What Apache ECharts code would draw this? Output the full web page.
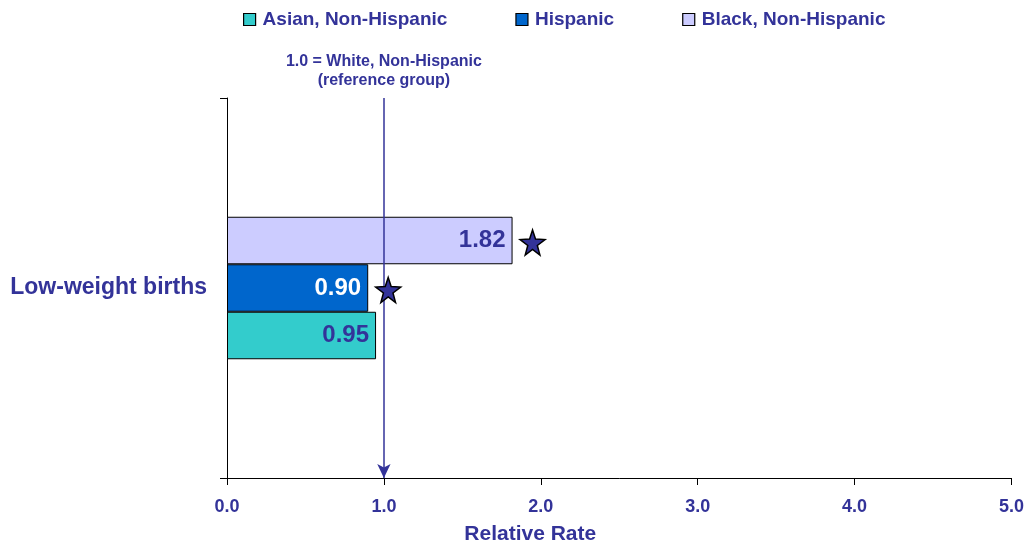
<!DOCTYPE html>
<html><head><meta charset="utf-8">
<script src="https://cdn.jsdelivr.net/npm/echarts@6/dist/echarts.min.js"></script>
<style>html,body{margin:0;padding:0;background:#fff}#c{width:1027px;height:550px}</style>
</head><body><div id="c"></div>
<script>
const categories = ['Low-weight births'];
const seriesNames = ['Asian, Non-Hispanic', 'Hispanic', 'Black, Non-Hispanic'];
const asianValues = [0.95];
const hispanicValues = [0.90];
const blackValues = [1.82];
const significant = [false, true, true];
const xTicks = [0, 1, 2, 3, 4, 5];
const referenceValue = 1.0;

const ink = '#333399';
const colors = ['#33CCCC', '#0066CC', '#CCCCFF'];
const labelColors = [ink, '#ffffff', ink];
const valuesList = [asianValues, hispanicValues, blackValues];
const font = 'Liberation Sans, Arial, sans-serif';

const series = seriesNames.map((name, i) => {
  const s = {
    name, type: 'bar',
    data: valuesList[i],
    barWidth: 47.5, barGap: '0%', barCategoryGap: '63%',
    itemStyle: { color: colors[i], borderColor: '#000', borderWidth: 1 },
    label: { show: true, position: 'insideRight', distance: 7, formatter: p => p.value.toFixed(2),
      color: labelColors[i], fontFamily: font, fontWeight: 'bold', fontSize: 24 }
  };
  if (significant[i]) {
    s.markPoint = {
      symbol: 'path://M50,0 L61.8,36.2 L100,38.2 L69.1,61.8 L79.4,100 L50,78 L20.6,100 L30.9,61.8 L0,38.2 L38.2,36.2 Z',
      symbolSize: 25, symbolOffset: [20, 2],
      itemStyle: { color: ink, borderColor: '#000', borderWidth: 1.5 },
      label: { show: false },
      data: valuesList[i].map((v, k) => ({ coord: [v, categories[k]] }))
    };
  }
  if (i === 0) {
    s.markLine = {
      silent: true,
      symbol: ['arrow', 'none'], symbolSize: [10, 14],
      lineStyle: { color: ink, width: 1.5, type: 'solid' },
      label: { show: true, position: 'end', distance: 8, formatter: '1.0 = White, Non-Hispanic\n(reference group)',
        color: ink, fontFamily: font, fontWeight: 'bold', fontSize: 16, lineHeight: 19, align: 'center' },
      data: [{ xAxis: referenceValue }]
    };
  }
  return s;
}).reverse();

const chart = echarts.init(document.getElementById('c'));
chart.setOption({
  animation: false,
  textStyle: { fontFamily: font },
  legend: {
    top: 5, left: 243, padding: [5, 0, 0, 0], itemGap: 68, itemWidth: 12, itemHeight: 12, icon: 'rect',
    itemStyle: { borderColor: '#000', borderWidth: 1.2 },
    textStyle: { color: ink, fontFamily: font, fontWeight: 'bold', fontSize: 19, padding: [0, 0, 0, 2] },
    data: seriesNames
  },
  grid: { left: 227, right: 13, top: 98, bottom: 70, containLabel: false },
  xAxis: {
    type: 'value', min: xTicks[0], max: xTicks[xTicks.length - 1], interval: 1,
    name: 'Relative Rate', nameLocation: 'middle', nameGap: 46,
    nameTextStyle: { color: ink, fontFamily: font, fontWeight: 'bold', fontSize: 21, padding: [0, 178, 0, 0] },
    axisLine: { show: true, lineStyle: { color: '#000', width: 1 } },
    axisTick: { show: true, length: 7, lineStyle: { color: '#000' } },
    splitLine: { show: false },
    axisLabel: { color: ink, fontFamily: font, fontWeight: 'bold', fontSize: 18, margin: 20, formatter: v => v.toFixed(1) }
  },
  yAxis: {
    type: 'category', data: categories,
    axisLine: { show: true, lineStyle: { color: '#000', width: 1 } },
    axisTick: { show: true, length: 7, lineStyle: { color: '#000' } },
    axisLabel: { color: ink, fontFamily: font, fontWeight: 'bold', fontSize: 23, margin: 20 }
  },
  series
});
</script></body></html>
